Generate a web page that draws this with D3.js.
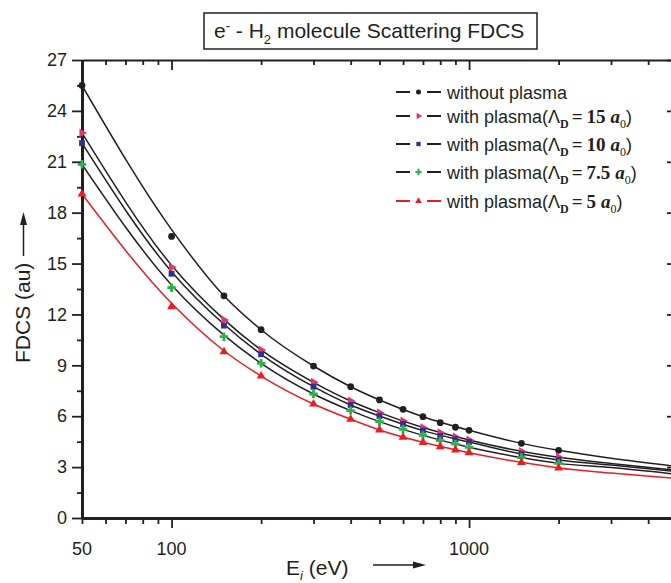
<!DOCTYPE html>
<html>
<head>
<meta charset="utf-8">
<script src="https://cdn.jsdelivr.net/npm/d3@7"></script>
<style>
  body { margin: 0; background: #fff; }
  svg { display: block; font-family: "Liberation Sans", Arial, sans-serif; }
</style>
</head>
<body>
<div id="chart"></div>
<script>
// incident energies (eV) where points are plotted
var energies = [50, 100, 150, 200, 300, 400, 500, 600, 700, 800, 900, 1000, 1500, 2000];

// FDCS values
var noPlasma  = [25.5, 16.6, 13.1, 11.1, 8.96, 7.74, 6.96, 6.41, 5.97, 5.62, 5.35, 5.17, 4.40, 3.99];
var plasma15  = [22.7, 14.78, 11.67, 9.91, 8.0, 6.90, 6.21, 5.72, 5.33, 5.03, 4.78, 4.60, 3.93, 3.58];
var plasma10  = [22.1, 14.4, 11.34, 9.65, 7.74, 6.66, 6.01, 5.54, 5.15, 4.83, 4.64, 4.48, 3.77, 3.42];
var plasma7_5 = [20.85, 13.58, 10.69, 9.12, 7.31, 6.33, 5.68, 5.23, 4.87, 4.56, 4.36, 4.17, 3.56, 3.22];
var plasma5   = [19.1, 12.46, 9.8, 8.37, 6.72, 5.82, 5.19, 4.76, 4.46, 4.21, 4.01, 3.85, 3.28, 2.95];

// fitted curves (they run a little above the points at 100 eV
// and carry on past the last point to the frame)
var fitEnergies   = [50, 100, 150, 200, 300, 400, 500, 700, 1000, 1500, 2000, 3000, 4800];
var fitNoPlasma   = [25.5, 17.0, 13.1, 11.1, 8.96, 7.74, 6.96, 5.97, 5.17, 4.40, 3.99, 3.52, 3.08];
var fitPlasma15   = [22.7, 14.9, 11.71, 9.91, 8.0, 6.90, 6.21, 5.33, 4.60, 3.93, 3.58, 3.21, 2.84];
var fitPlasma10   = [22.1, 14.52, 11.42, 9.65, 7.74, 6.66, 6.01, 5.15, 4.48, 3.77, 3.42, 3.12, 2.77];
var fitPlasma7_5  = [20.85, 13.74, 10.78, 9.12, 7.31, 6.33, 5.68, 4.87, 4.17, 3.56, 3.22, 2.97, 2.61];
var fitPlasma5    = [19.1, 12.66, 9.86, 8.37, 6.72, 5.82, 5.19, 4.46, 3.85, 3.28, 2.95, 2.65, 2.35];

// ticks
var yMajorTicks = [0, 3, 6, 9, 12, 15, 18, 21, 24, 27];
var yMinorTicks = [1.5, 4.5, 7.5, 10.5, 13.5, 16.5, 19.5, 22.5, 25.5];
var xMajorTicks = [100, 1000];
var xMinorTicks = [50, 60, 70, 80, 90, 200, 300, 400, 500, 600, 700, 800, 900, 2000, 3000, 4000];
var xTickLabels = [50, 100, 1000];

var legendLambda = ["", "15", "10", "7.5", "5"];

var series = [
  {values: noPlasma,  fit: fitNoPlasma,  mark: "#231f20", line: "#231f20", symbol: d3.symbolCircle,   size: 36, rot: 0},
  {values: plasma15,  fit: fitPlasma15,  mark: "#e8336e", line: "#231f20", symbol: d3.symbolTriangle, size: 34, rot: 90},
  {values: plasma10,  fit: fitPlasma10,  mark: "#2e3192", line: "#231f20", symbol: d3.symbolSquare,   size: 34, rot: 0},
  {values: plasma7_5, fit: fitPlasma7_5, mark: "#2db34a", line: "#231f20", symbol: d3.symbolCross,    size: 40, rot: 0},
  {values: plasma5,   fit: fitPlasma5,   mark: "#ed1c24", line: "#ed1c24", symbol: d3.symbolTriangle, size: 34, rot: 0}
];

var width = 671, height = 583;
var plot = {left: 82, top: 60, right: 677, bottom: 518};
var ink = "#231f20";

var svg = d3.select("#chart").append("svg")
    .attr("width", width)
    .attr("height", height);

var x = d3.scaleLog().domain([50, 5000]).range([plot.left, plot.right]);
var y = d3.scaleLinear().domain([0, 27]).range([plot.bottom, plot.top]);

// clip for the curves
svg.append("clipPath").attr("id", "clip")
  .append("rect")
    .attr("x", plot.left).attr("y", plot.top)
    .attr("width", plot.right - plot.left).attr("height", plot.bottom - plot.top);

// curves
var line = d3.line()
    .x(function(d) { return x(d[0]); })
    .y(function(d) { return y(d[1]); })
    .curve(d3.curveMonotoneX);

series.forEach(function(s) {
  var pts = fitEnergies.map(function(e, i) { return [e, s.fit[i]]; });
  svg.append("path")
      .attr("clip-path", "url(#clip)")
      .attr("d", line(pts))
      .attr("fill", "none")
      .attr("stroke", s.line)
      .attr("stroke-width", 1.5);
});

// axes
function styleAxis(g, w) {
  g.select(".domain").attr("stroke", ink).attr("stroke-width", w);
  g.selectAll(".tick line").attr("stroke", ink).attr("stroke-width", 1.8);
  g.selectAll(".tick text").attr("fill", ink).style("font-size", "18px")
      .style("font-family", "'Liberation Sans', Arial, sans-serif");
}

// top (inward ticks, no labels)
var gTop = svg.append("g").attr("transform", "translate(0," + plot.top + ")");
gTop.call(d3.axisBottom(x).tickValues(xMinorTicks).tickSize(5).tickSizeOuter(0).tickFormat(""));
gTop.append("g").call(d3.axisBottom(x).tickValues(xMajorTicks).tickSize(10).tickSizeOuter(0).tickFormat(""))
    .select(".domain").remove();
styleAxis(gTop, 2);

// right (inward ticks)
var gRight = svg.append("g").attr("transform", "translate(" + plot.right + ",0)");
gRight.call(d3.axisLeft(y).tickValues(yMinorTicks).tickSize(5).tickSizeOuter(0).tickFormat(""));
gRight.append("g").call(d3.axisLeft(y).tickValues(yMajorTicks).tickSize(10).tickSizeOuter(0).tickFormat(""))
    .select(".domain").remove();
styleAxis(gRight, 2);

// bottom
var gBottom = svg.append("g").attr("transform", "translate(0," + plot.bottom + ")");
gBottom.call(d3.axisBottom(x).tickValues(xMinorTicks).tickSize(6).tickSizeOuter(0).tickFormat(""));
gBottom.append("g").call(d3.axisBottom(x).tickValues(xMajorTicks).tickSize(10).tickSizeOuter(0).tickFormat(""))
    .select(".domain").remove();
styleAxis(gBottom, 3);

gBottom.selectAll(".ticklabel")
    .data(xTickLabels)
  .enter().append("text")
    .attr("class", "ticklabel")
    .attr("x", function(d) { return x(d); })
    .attr("y", 37)
    .attr("text-anchor", "middle")
    .attr("fill", ink)
    .style("font-size", "18px")
    .text(function(d) { return d; });

// left
var gLeft = svg.append("g").attr("transform", "translate(" + plot.left + ",0)");
gLeft.call(d3.axisLeft(y).tickValues(yMinorTicks).tickSize(5).tickSizeOuter(0).tickFormat(""));
gLeft.append("g").call(d3.axisLeft(y).tickValues(yMajorTicks).tickSize(10).tickPadding(5).tickSizeOuter(0))
    .select(".domain").remove();
styleAxis(gLeft, 3);

// markers
series.forEach(function(s) {
  svg.append("g").selectAll("path")
      .data(energies)
    .enter().append("path")
      .attr("d", d3.symbol().type(s.symbol).size(s.size))
      .attr("transform", function(d, i) {
        return "translate(" + x(d) + "," + y(s.values[i]) + ") rotate(" + s.rot + ")";
      })
      .attr("fill", s.mark);
});

// legend
var legendRows = [92, 116, 144, 172, 201];
var serif = "'Liberation Serif', 'Times New Roman', serif";
var legend = svg.append("g");
series.forEach(function(s, i) {
  var row = legend.append("g").attr("transform", "translate(0," + legendRows[i] + ")");
  row.append("line").attr("x1", 396).attr("x2", 410).attr("y1", 0).attr("y2", 0)
      .attr("stroke", s.line).attr("stroke-width", 2);
  row.append("line").attr("x1", 427).attr("x2", 441).attr("y1", 0).attr("y2", 0)
      .attr("stroke", s.line).attr("stroke-width", 2);
  row.append("path")
      .attr("d", d3.symbol().type(s.symbol).size(s.size * 0.55))
      .attr("transform", "translate(418.5,0) rotate(" + s.rot + ")")
      .attr("fill", s.mark);

  var t = row.append("text")
      .attr("x", 447).attr("y", 6.5)
      .attr("fill", ink)
      .style("font-size", "18px");
  if (i == 0) {
    t.text("without plasma");
  } else {
    t.append("tspan").text("with plasma(\u039B");
    t.append("tspan").attr("dy", 5).style("font-size", "12px")
        .style("font-family", serif).style("font-weight", "bold").text("D");
    t.append("tspan").attr("dy", -5).attr("dx", 3)
        .style("font-family", serif).style("font-weight", "bold").style("font-size", "19px")
        .text("=");
    t.append("tspan").attr("dx", 4)
        .style("font-family", serif).style("font-weight", "bold").style("font-size", "19px")
        .text(legendLambda[i]);
    t.append("tspan").attr("dx", 5)
        .style("font-family", serif).style("font-weight", "bold").style("font-size", "19px")
        .style("font-style", "italic").text("a");
    t.append("tspan").attr("dy", 5).style("font-size", "12px")
        .style("font-family", serif).text("0");
    t.append("tspan").attr("dy", -5).text(")");
  }
});

// title box
svg.append("rect")
    .attr("x", 204).attr("y", 13)
    .attr("width", 333).attr("height", 36)
    .attr("fill", "#fff")
    .attr("stroke", ink)
    .attr("stroke-width", 1.5);

var title = svg.append("text")
    .attr("x", 214).attr("y", 38)
    .attr("fill", ink)
    .style("font-size", "21px");
title.append("tspan").text("e");
title.append("tspan").attr("dy", -8).style("font-size", "13px").text("-");
title.append("tspan").attr("dy", 8).text(" - H");
title.append("tspan").attr("dy", 6).style("font-size", "13px").text("2");
title.append("tspan").attr("dy", -6).text(" molecule Scattering FDCS");

// y label
svg.append("text")
    .attr("transform", "translate(30,363) rotate(-90)")
    .attr("fill", ink)
    .style("font-size", "21px")
    .text("FDCS (au)");
svg.append("line")
    .attr("x1", 23.5).attr("x2", 23.5).attr("y1", 256).attr("y2", 222)
    .attr("stroke", ink).attr("stroke-width", 1.5);
svg.append("path")
    .attr("d", "M23.5,212 L20,225 L27,225 Z")
    .attr("fill", ink);

// x label
var xl = svg.append("text")
    .attr("x", 286).attr("y", 575)
    .attr("fill", ink)
    .style("font-size", "21px");
xl.append("tspan").text("E");
xl.append("tspan").attr("dy", 5).style("font-size", "13px").style("font-style", "italic").text("i");
xl.append("tspan").attr("dy", -5).text(" (eV)");
svg.append("line")
    .attr("x1", 373).attr("x2", 414).attr("y1", 565).attr("y2", 565)
    .attr("stroke", ink).attr("stroke-width", 1.5);
svg.append("path")
    .attr("d", "M426,565 L413,561.5 L413,568.5 Z")
    .attr("fill", ink);
</script>
</body>
</html>
